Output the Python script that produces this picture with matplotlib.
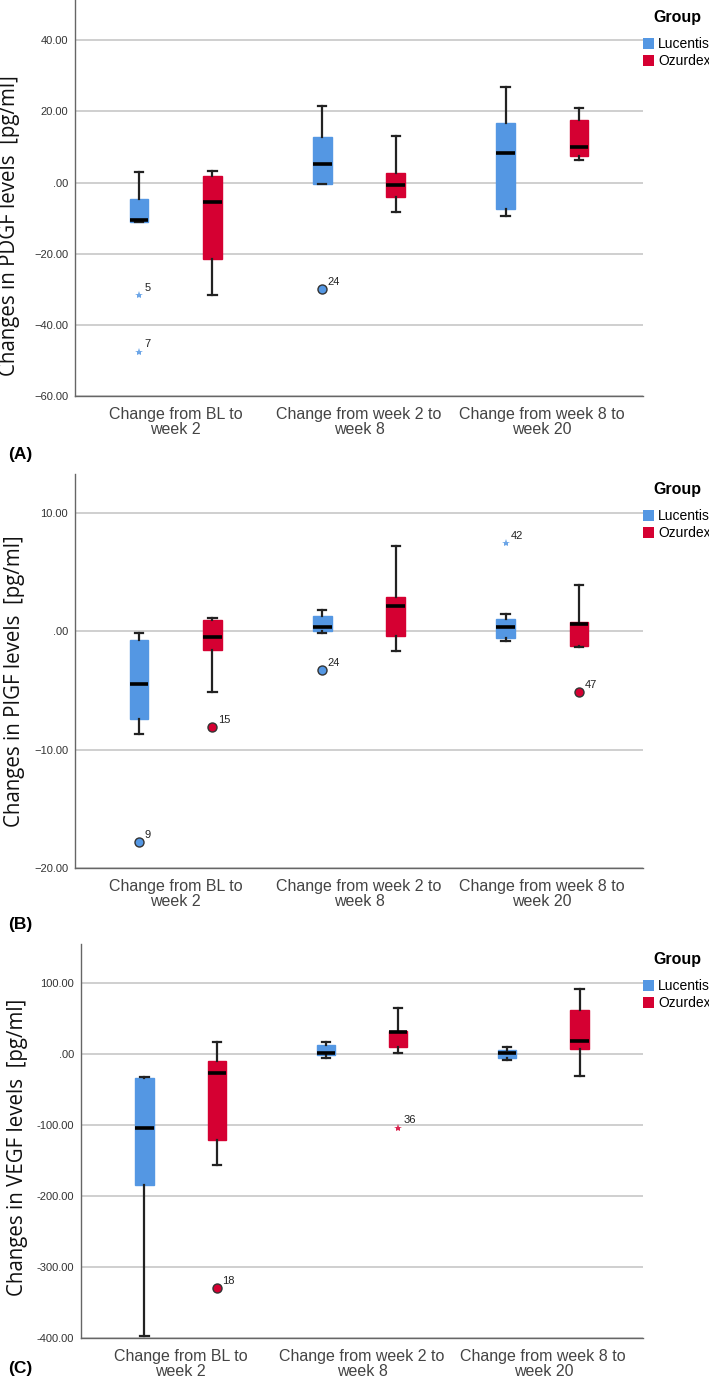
import numpy as np
import matplotlib
matplotlib.use("Agg")
import matplotlib.pyplot as plt
from matplotlib.patches import Patch

plt.rcParams['font.family'] = ['Liberation Sans', 'DejaVu Sans']

# categories on the x axis
categories = ["Change from BL to\nweek 2", "Change from week 2 to\nweek 8", "Change from week 8 to\nweek 20"]
groups = ["Lucentis", "Ozurdex"]
colors = ["#5497e3", "#d50032"]

# ---- panel A: PDGF ----
pdgf_luc_low = [-11.2, -0.5, -9.4]
pdgf_luc_q1 = [-11.0, -0.4, -7.4]
pdgf_luc_med = [-10.4, 5.2, 8.2]
pdgf_luc_q3 = [-4.7, 12.9, 16.7]
pdgf_luc_high = [3.0, 21.5, 26.8]
pdgf_ozu_low = [-31.5, -8.3, 6.2]
pdgf_ozu_q1 = [-21.5, -4.1, 7.5]
pdgf_ozu_med = [-5.4, -0.6, 9.9]
pdgf_ozu_q3 = [1.7, 2.6, 17.7]
pdgf_ozu_high = [3.2, 13.0, 21.0]
pdgf_out_group = [0, 0, 0]
pdgf_out_cat = [0, 0, 1]
pdgf_out_val = [-31.7, -47.5, -30.0]
pdgf_out_id = ["5", "7", "24"]
pdgf_out_star = [True, True, False]

# ---- panel B: PlGF ----
plgf_luc_low = [-8.7, -0.1, -0.85]
plgf_luc_q1 = [-7.4, 0.0, -0.6]
plgf_luc_med = [-4.45, 0.37, 0.4]
plgf_luc_q3 = [-0.7, 1.3, 1.05]
plgf_luc_high = [-0.15, 1.8, 1.5]
plgf_ozu_low = [-5.15, -1.7, -1.3]
plgf_ozu_q1 = [-1.6, -0.37, -1.27]
plgf_ozu_med = [-0.45, 2.14, 0.62]
plgf_ozu_q3 = [1.0, 2.93, 0.79]
plgf_ozu_high = [1.15, 7.24, 3.95]
plgf_out_group = [0, 1, 0, 0, 1]
plgf_out_cat = [0, 0, 1, 2, 2]
plgf_out_val = [-17.8, -8.06, -3.27, 7.44, -5.15]
plgf_out_id = ["9", "15", "24", "42", "47"]
plgf_out_star = [False, False, False, True, False]

# ---- panel C: VEGF ----
vegf_luc_low = [-396.7, -6.1, -8.9]
vegf_luc_q1 = [-184.0, -1.9, -5.6]
vegf_luc_med = [-104.7, 0.5, 1.4]
vegf_luc_q3 = [-34.3, 12.2, 5.2]
vegf_luc_high = [-32.9, 16.4, 9.4]
vegf_ozu_low = [-155.9, 0.5, -31.0]
vegf_ozu_q1 = [-120.7, 9.9, 6.6]
vegf_ozu_med = [-27.2, 31.0, 17.8]
vegf_ozu_q3 = [-9.9, 32.4, 61.5]
vegf_ozu_high = [16.4, 63.8, 91.5]
vegf_out_group = [1, 1]
vegf_out_cat = [0, 1]
vegf_out_val = [-329.6, -103.8]
vegf_out_id = ["18", "36"]
vegf_out_star = [False, True]

panels = [
    dict(luc=(pdgf_luc_low, pdgf_luc_q1, pdgf_luc_med, pdgf_luc_q3, pdgf_luc_high),
         ozu=(pdgf_ozu_low, pdgf_ozu_q1, pdgf_ozu_med, pdgf_ozu_q3, pdgf_ozu_high),
         out=(pdgf_out_group, pdgf_out_cat, pdgf_out_val, pdgf_out_id, pdgf_out_star),
         ylim=(-60, 51.3), ticks=[-60, -40, -20, 0, 20, 40],
         ylabel="Changes in PDGF levels  [pg/ml]", letter="(A)",
         rect=[75 / 709, 1 - 396 / 1382, 568 / 709, 396 / 1382],
         lab_xy=(-0.097, 0.43), minus="\u2212", letter_y=454, leg_y=0.975),
    dict(luc=(plgf_luc_low, plgf_luc_q1, plgf_luc_med, plgf_luc_q3, plgf_luc_high),
         ozu=(plgf_ozu_low, plgf_ozu_q1, plgf_ozu_med, plgf_ozu_q3, plgf_ozu_high),
         out=(plgf_out_group, plgf_out_cat, plgf_out_val, plgf_out_id, plgf_out_star),
         ylim=(-20, 13.3), ticks=[-20, -10, 0, 10],
         ylabel="Changes in PIGF levels  [pg/ml]", letter="(B)",
         rect=[75 / 709, 1 - 868 / 1382, 568 / 709, 394 / 1382],
         lab_xy=(-0.088, 0.475), minus="\u2212", letter_y=925, leg_y=0.98),
    dict(luc=(vegf_luc_low, vegf_luc_q1, vegf_luc_med, vegf_luc_q3, vegf_luc_high),
         ozu=(vegf_ozu_low, vegf_ozu_q1, vegf_ozu_med, vegf_ozu_q3, vegf_ozu_high),
         out=(vegf_out_group, vegf_out_cat, vegf_out_val, vegf_out_id, vegf_out_star),
         ylim=(-400, 154.5), ticks=[-400, -300, -200, -100, 0, 100],
         ylabel="Changes in VEGF levels  [pg/ml]", letter="(C)",
         rect=[81 / 709, 1 - 1338 / 1382, 562 / 709, 394 / 1382],
         lab_xy=(-0.094, 0.485), minus="-", letter_y=1368, leg_y=0.98),
]

fig = plt.figure(figsize=(7.09, 13.82), dpi=100)
x = np.arange(len(categories))
offset = 0.2

for p in panels:
    ax = fig.add_axes(p["rect"])
    for gi, key in enumerate(["luc", "ozu"]):
        low, q1, med, q3, high = p[key]
        stats = []
        for i in range(len(categories)):
            stats.append(dict(whislo=low[i], q1=q1[i], med=med[i], q3=q3[i], whishi=high[i], fliers=[]))
        pos = x + (offset if gi else -offset)
        ax.bxp(stats, positions=pos, widths=0.1, capwidths=0.045, patch_artist=True, showfliers=False,
               boxprops=dict(facecolor=colors[gi], edgecolor=colors[gi], linewidth=1),
               medianprops=dict(color="black", linewidth=2.6),
               whiskerprops=dict(color="#222222", linewidth=1.6),
               capprops=dict(color="#222222", linewidth=1.6), zorder=3)

    # outliers
    og, oc, ov, oid, ostar = p["out"]
    for g, c, v, lab, star in zip(og, oc, ov, oid, ostar):
        xp = c + (offset if g else -offset)
        if star:
            ax.plot(xp, v, marker="*", markersize=6, color=colors[g], alpha=0.85,
                    markeredgewidth=0, zorder=4)
        else:
            ax.plot(xp, v, marker="o", markersize=6.5, markerfacecolor=colors[g],
                    markeredgecolor="#333333", markeredgewidth=1, zorder=4)
        ax.annotate(lab, (xp, v), xytext=(4, 3), textcoords="offset points",
                    fontsize=8, color="#222222")

    ax.set_xlim(-0.55, 2.55)
    ax.set_ylim(*p["ylim"])
    ax.set_yticks(p["ticks"])
    ax.set_yticklabels([".00" if t == 0 else (p["minus"] if t < 0 else "") + f"{abs(t):.2f}"
                        for t in p["ticks"]])
    ax.set_xticks(x)
    ax.set_xticklabels(categories, fontsize=11.5, color="#444444", linespacing=1.0)
    ax.tick_params(axis="both", length=0)
    ax.tick_params(axis="y", labelsize=8, colors="#333333", pad=5)
    ax.tick_params(axis="x", pad=8)
    ax.grid(axis="y", color="#cccccc", linewidth=1.3, zorder=0)
    ax.set_axisbelow(True)
    for s in ["top", "right"]:
        ax.spines[s].set_visible(False)
    for s in ["left", "bottom"]:
        ax.spines[s].set_color("#666666")
        ax.spines[s].set_linewidth(1)
    ax.set_ylabel(p["ylabel"], fontsize=14.8, family=["Open Sans", "DejaVu Sans"], color="#111111")
    ax.yaxis.set_label_coords(*p["lab_xy"])

    handles = [Patch(facecolor=colors[0], label=groups[0]), Patch(facecolor=colors[1], label=groups[1])]
    leg = ax.legend(handles=handles, title="Group", loc="upper left",
                    bbox_to_anchor=(1.0, p["leg_y"]), frameon=False, fontsize=10,
                    title_fontproperties=dict(weight="bold", size=11.5),
                    handlelength=0.8, handleheight=0.9, handletextpad=0.3,
                    borderaxespad=0, borderpad=0, labelspacing=0.2)
    leg._legend_box.align = "center"
    leg._legend_box.sep = 9

    fig.text(8 / 709, 1 - p["letter_y"] / 1382, p["letter"], fontsize=12.5, weight="bold",
             va="center", ha="left")

fig.savefig("out.png", dpi=100)
